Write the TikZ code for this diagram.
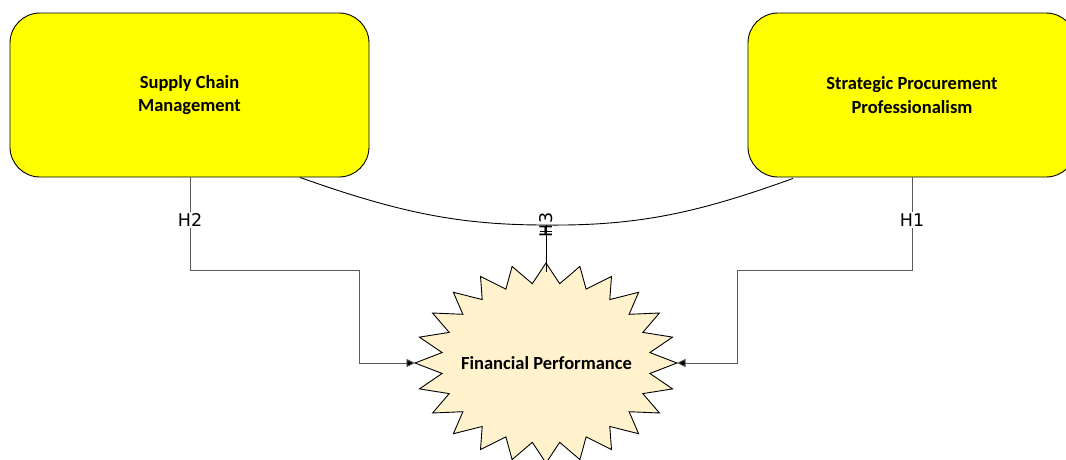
\documentclass[tikz,border=0pt]{standalone}
\usepackage{fontspec}
\setmainfont{Carlito}
\newfontfamily\labelfont{DejaVu Sans}
\usetikzlibrary{arrows.meta,calc}

\definecolor{boxyellow}{RGB}{255,255,0}
\definecolor{starcream}{RGB}{255,242,204}
\definecolor{linkgray}{RGB}{90,90,90}

\tikzset{
  conceptbox/.style={draw=black, line width=0.9pt, fill=boxyellow, rounded corners=30pt,
    minimum height=164pt, align=center,
    font=\fontsize{18.5}{23.5}\selectfont\bfseries, inner sep=0pt},
  burst/.style={draw=black, line width=0.9pt, fill=starcream},
  link/.style={draw=linkgray, line width=0.9pt, -{Triangle[length=8.5pt,width=8pt,fill=black]}},
  tie/.style={draw=black, line width=0.9pt},
  hyp/.style={font=\labelfont\fontsize{17.5}{19}\selectfont, inner sep=1.5pt, text=black},
}

\begin{document}
\begin{tikzpicture}[x=1pt,y=1pt]
\useasboundingbox (0,0) rectangle (1066,-459);
\clip (0,0) rectangle (1066,-459);

% the two driver constructs
\node[conceptbox, minimum width=359pt] (scm) at (189.5,-95) {Supply Chain\\Management};
\node[conceptbox, minimum width=328pt] (spp) at (912,-95) {Strategic Procurement\\Professionalism};

% outcome construct: a 24-point burst, wider than tall
\path[burst] (546,-263)
  \foreach \i in {1,...,47} {
    -- ({546+ifthenelse(isodd(\i),0.8,1)*131*cos(90+7.5*\i)},
        {-363+ifthenelse(isodd(\i),0.8,1)*100*sin(90+7.5*\i)})
  } -- cycle;
\node[font=\fontsize{18.5}{22}\selectfont\bfseries, inner sep=0pt] (fp) at (546.5,-363) {Financial Performance};
\coordinate (fpL) at (415,-363);
\coordinate (fpR) at (677,-363);
\coordinate (fpT) at (546,-263);

% H2: supply chain management -> financial performance
\coordinate (h2a) at (scm.south -| 190,0);
\draw[link] (h2a) -- (190,-270) -- (359,-270) -- (359,-363) -- (fpL);
\node[hyp, fill=white] (h2) at (190,-220) {H2};

% H1: strategic procurement professionalism -> financial performance
\coordinate (h1a) at (spp.south -| 912,0);
\draw[link] (h1a) -- (912,-270) -- (737,-270) -- (737,-363) -- (fpR);
\node[hyp, fill=white] (h1) at (912,-220) {H1};

% H3: joint link between the two drivers, tied into the outcome
\coordinate (c1) at ($(scm.south)+(110.5,0)$);
\coordinate (c2) at ($(spp.south)+(-119,-1)$);
\coordinate (h3) at (546,-225);
\draw[tie] (c1) .. controls (400,-213) and (460,-225) .. (h3)
               .. controls (640,-226) and (700,-212) .. (c2);
\draw[tie] (h3) -- ($(fpT)+(0,-9)$);
\draw[tie] (540,-231) -- (552,-231);
\node[hyp, rotate=90] (h3lab) at (546,-225) {H3};
\end{tikzpicture}
\end{document}
